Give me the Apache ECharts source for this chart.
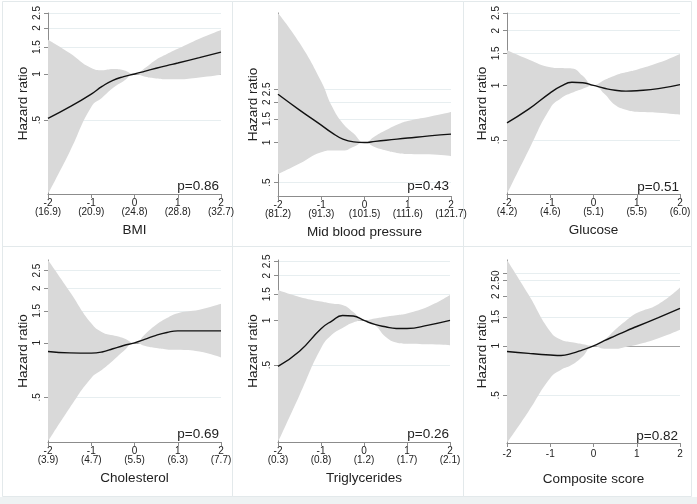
<!DOCTYPE html>
<html><head><meta charset="utf-8">
<script src="https://cdn.jsdelivr.net/npm/echarts@6/dist/echarts.min.js"></script>
<style>html,body{margin:0;padding:0;background:#fff}#c{width:697px;height:504px}</style>
</head><body><div id="c"></div>
<script>
// ---------- data (hazard ratios) ----------
const xGrid = [-2, -1.5, -1, -0.75, -0.5, -0.25, 0, 0.25, 0.5, 0.75, 1, 1.5, 2];
const xTickVals = [-2, -1, 0, 1, 2];

const bmiFit = [0.513, 0.61, 0.74, 0.83, 0.91, 0.962, 1, 1.045, 1.09, 1.135, 1.18, 1.28, 1.39];
const bmiHi  = [1.67, 1.37, 1.095, 1.06, 1.08, 1.06, 1, 1.10, 1.24, 1.35, 1.46, 1.70, 1.94];
const bmiLo  = [0.165, 0.31, 0.61, 0.70, 0.81, 0.90, 1, 0.96, 0.935, 0.925, 0.925, 0.95, 0.99];

const bpFit = [2.30, 1.75, 1.35, 1.18, 1.06, 1.01, 1, 1.02, 1.04, 1.06, 1.08, 1.12, 1.155];
const bpHi  = [9.35, 5.56, 2.86, 1.86, 1.39, 1.17, 1, 1.12, 1.24, 1.36, 1.45, 1.56, 1.69];
const bpLo  = [0.578, 0.695, 0.845, 0.87, 0.87, 0.93, 1, 0.92, 0.87, 0.835, 0.82, 0.815, 0.79];

const gluFit = [0.623, 0.74, 0.91, 0.99, 1.04, 1.035, 1, 0.965, 0.94, 0.93, 0.935, 0.96, 1.01];
const gluHi  = [1.56, 1.39, 1.26, 1.245, 1.24, 1.13, 1, 1.07, 1.135, 1.18, 1.22, 1.33, 1.49];
const gluLo  = [0.253, 0.44, 0.75, 0.85, 0.91, 0.96, 1, 0.90, 0.78, 0.735, 0.716, 0.707, 0.69];

const cholFit = [0.896, 0.88, 0.877, 0.89, 0.927, 0.967, 1, 1.048, 1.10, 1.14, 1.164, 1.164, 1.164];
const cholHi  = [2.86, 1.92, 1.28, 1.145, 1.10, 1.06, 1, 1.12, 1.256, 1.37, 1.457, 1.52, 1.64];
const cholLo  = [0.286, 0.437, 0.64, 0.71, 0.796, 0.90, 1, 0.96, 0.935, 0.92, 0.915, 0.896, 0.83];

const trigFit = [0.49, 0.62, 0.88, 0.99, 1.08, 1.07, 1, 0.94, 0.906, 0.883, 0.883, 0.93, 1.0];
const trigHi  = [1.60, 1.44, 1.34, 1.30, 1.27, 1.14, 1, 1.03, 1.06, 1.085, 1.115, 1.24, 1.48];
const trigLo  = [0.152, 0.314, 0.65, 0.80, 0.89, 0.97, 1, 0.93, 0.776, 0.71, 0.696, 0.69, 0.68];

const compFit = [0.924, 0.90, 0.88, 0.874, 0.90, 0.946, 1, 1.075, 1.15, 1.23, 1.31, 1.485, 1.69];
const compHi  = [3.32, 2.04, 1.22, 1.087, 1.05, 1.023, 1, 1.087, 1.25, 1.42, 1.58, 1.79, 2.26];
const compLo  = [0.257, 0.40, 0.637, 0.715, 0.767, 0.862, 1, 0.96, 0.96, 0.985, 1.014, 1.11, 1.25];

const bmiRaw  = ['16.9', '20.9', '24.8', '28.8', '32.7'];
const bpRaw   = ['81.2', '91.3', '101.5', '111.6', '121.7'];
const gluRaw  = ['4.2', '4.6', '5.1', '5.5', '6.0'];
const cholRaw = ['3.9', '4.7', '5.5', '6.3', '7.7'];
const trigRaw = ['0.3', '0.8', '1.2', '1.7', '2.1'];
const compRaw = null;

const yTickVals  = [0.5, 1, 1.5, 2, 2.5];
const yTickText  = ['.5', '1', '1.5', '2', '2.5'];
const compTickVals = [0.5, 1, 1.5, 2, 2.5, 2.75];
const compTickText = ['.5', '1', '1.5', '2', '2.50', ''];

const yMins = [0.165, 0.397, 0.253, 0.284, 0.152, 0.257];
const yMaxs = [2.5, 9.35, 2.5, 2.86, 2.55, 3.32];

const names  = ['BMI', 'Mid blood pressure', 'Glucose', 'Cholesterol', 'Triglycerides', 'Composite score'];
const pTexts = ['p=0.86', 'p=0.43', 'p=0.51', 'p=0.69', 'p=0.26', 'p=0.82'];

// ---------- assembly ----------
const panels = [
  {fit: bmiFit, hi: bmiHi, lo: bmiLo, raw: bmiRaw, tv: yTickVals, tt: yTickText},
  {fit: bpFit, hi: bpHi, lo: bpLo, raw: bpRaw, tv: yTickVals, tt: yTickText},
  {fit: gluFit, hi: gluHi, lo: gluLo, raw: gluRaw, tv: yTickVals, tt: yTickText},
  {fit: cholFit, hi: cholHi, lo: cholLo, raw: cholRaw, tv: yTickVals, tt: yTickText},
  {fit: trigFit, hi: trigHi, lo: trigLo, raw: trigRaw, tv: yTickVals, tt: yTickText},
  {fit: compFit, hi: compHi, lo: compLo, raw: compRaw, tv: compTickVals, tt: compTickText}
];
const layout = [
  {left: 48,  top: 13,  width: 173, height: 181, pX: 219, pY: 186},
  {left: 278, top: 13,  width: 173, height: 183, pX: 449, pY: 186},
  {left: 507, top: 13,  width: 173, height: 181, pX: 679, pY: 187},
  {left: 48,  top: 260, width: 173, height: 182, pX: 219, pY: 434},
  {left: 278, top: 260, width: 172, height: 182, pX: 449, pY: 434},
  {left: 507, top: 260, width: 173, height: 183, pX: 678, pY: 436}
];
const FONT = '"Liberation Sans", Arial, sans-serif';
const TXT = '#222';
const AX = '#8c8c8c';

const grid = [], xAxis = [], yAxis = [], series = [], graphic = [];

// panel frames
const frames = [[2.5,1.5,230,245],[232.5,1.5,231,245],[463.5,1.5,228,245],[2.5,246.5,230,250],[232.5,246.5,231,250],[463.5,246.5,228,250]];
frames.forEach(f => graphic.push({type:'rect', silent:true, z:-10,
  shape:{x:f[0], y:f[1], width:f[2], height:f[3]}, style:{fill:'none', stroke:'#e3e9eb', lineWidth:1}}));
graphic.push({type:'rect', silent:true, z:-10, shape:{x:0, y:497, width:697, height:7}, style:{fill:'#eef2f3'}});

panels.forEach((p, i) => {
  const L = layout[i];
  grid.push({left: L.left, top: L.top, width: L.width, height: L.height, containLabel: false});
  const logTicks = p.tv.map(Math.log);
  xAxis.push({
    gridIndex: i, type: 'value', min: -2, max: 2, interval: 1,
    axisLine: {show: true, onZero: false, lineStyle: {color: AX}},
    axisTick: {show: true, length: 4, lineStyle: {color: AX}},
    splitLine: {show: false},
    axisLabel: {
      color: TXT, fontSize: 10, fontFamily: FONT, lineHeight: 9, margin: p.raw ? 5 : 7,
      formatter: v => {
        const k = xTickVals.indexOf(v);
        return p.raw ? (v + '\n(' + p.raw[k] + ')') : String(v);
      }
    },
    name: names[i], nameLocation: 'middle', nameGap: 29,
    nameTextStyle: {color: TXT, fontSize: 13.5, fontFamily: FONT}
  });
  yAxis.push({
    gridIndex: i, type: 'value', min: Math.log(yMins[i]), max: Math.log(yMaxs[i]),
    axisLine: {show: true, onZero: false, lineStyle: {color: AX}},
    axisTick: {show: true, length: 4, lineStyle: {color: AX}, customValues: logTicks},
    splitLine: {show: true, lineStyle: {color: '#e7eef0', width: 1}},
    axisLabel: {
      customValues: logTicks, rotate: 90, margin: 6, color: TXT, fontSize: 10, fontFamily: FONT,
      formatter: v => {
        let best = 0, d = Infinity;
        logTicks.forEach((t, k) => { if (Math.abs(t - v) < d) { d = Math.abs(t - v); best = k; } });
        return p.tt[best];
      }
    },
    name: 'Hazard ratio', nameLocation: 'middle', nameGap: 18,
    nameTextStyle: {color: TXT, fontSize: 13.5, fontFamily: FONT}
  });
  const sm = 0.5;
  // band: lower bound + (upper - lower) stacked; value column first so it is the stacked dimension
  series.push({
    type: 'line', xAxisIndex: i, yAxisIndex: i, stack: 'band' + i, stackStrategy: 'all',
    encode: {x: 1, y: 0},
    data: xGrid.map((x, j) => [Math.log(p.lo[j]), x]),
    symbol: 'none', smooth: sm, lineStyle: {width: 0, opacity: 0}, silent: true, z: 2,
    markLine: {silent: true, symbol: 'none', z: 1, label: {show: false},
      lineStyle: {color: '#a3a3a3', type: 'solid', width: 1}, data: [{yAxis: 0}]}
  });
  series.push({
    type: 'line', xAxisIndex: i, yAxisIndex: i, stack: 'band' + i, stackStrategy: 'all',
    encode: {x: 1, y: 0},
    data: xGrid.map((x, j) => [Math.log(p.hi[j]) - Math.log(p.lo[j]), x]),
    symbol: 'none', smooth: sm, lineStyle: {width: 0, opacity: 0},
    areaStyle: {color: '#d9d9d9', opacity: 1}, silent: true, z: 3
  });
  series.push({
    type: 'line', xAxisIndex: i, yAxisIndex: i,
    data: xGrid.map((x, j) => [x, Math.log(p.fit[j])]),
    symbol: 'none', smooth: sm, lineStyle: {color: '#111', width: 1.4}, silent: true, z: 4
  });
  graphic.push({type: 'text', x: L.pX, y: L.pY, z: 20, silent: true,
    style: {text: pTexts[i], fill: TXT, fontSize: 13.5, fontFamily: FONT, align: 'right', verticalAlign: 'middle'}});
});

const chart = echarts.init(document.getElementById('c'), null, {renderer: 'canvas'});
chart.setOption({
  animation: false, backgroundColor: '#fff',
  grid, xAxis, yAxis, series, graphic
});
</script></body></html>
